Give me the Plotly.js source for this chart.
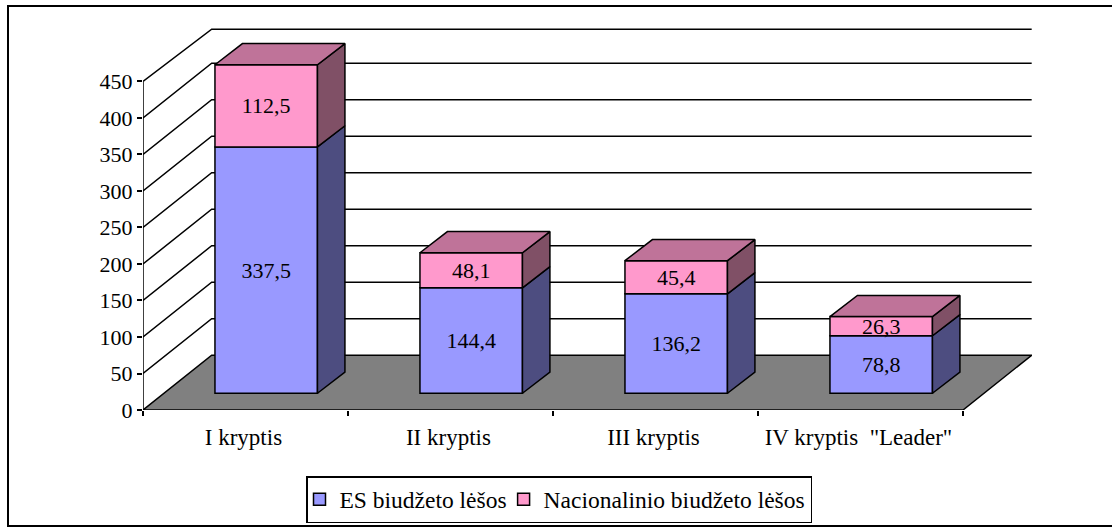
<!DOCTYPE html>
<html>
<head>
<meta charset="utf-8">
<script src="https://cdn.plot.ly/plotly-3.0.1.min.js"></script>
<style>html,body{margin:0;padding:0;background:#fff}#chart{width:1112px;height:531px}</style>
</head>
<body>
<div id="chart"></div>
<script>
const categories = ['I kryptis', 'II kryptis', 'III kryptis', 'IV kryptis  "Leader"'];
const esValues = [337.5, 144.4, 136.2, 78.8];
const nationalValues = [112.5, 48.1, 45.4, 26.3];
const esLabels = ['337,5', '144,4', '136,2', '78,8'];
const nationalLabels = ['112,5', '48,1', '45,4', '26,3'];
const yTicks = [0, 50, 100, 150, 200, 250, 300, 350, 400, 450];
const seriesNames = ['ES biudžeto lėšos', 'Nacionalinio biudžeto lėšos'];

// Oblique projection constants, in axis units
const W = 1112, H = 531;
const M = {l: 143, r: 80, t: 26, b: 121};
const xMax = (W - M.l - M.r) / 205, yMax = 526;
const wallDx = 0.335, wallDy = 75, wallTop = 521.6;
const barDx = 0.101, barDy = 22.9, barWidth = 0.5;
const depthDx = 0.134, depthDy = 29;
const FONT = '"Liberation Serif", "Times New Roman", serif';
const n = categories.length;
const idx = categories.map((_, i) => i);
const barX = idx.map(i => i + 0.5 + barDx);
const LW = 1.5;

function faces(bottoms, tops) {
  const xs = [], ys = [];
  idx.forEach(i => {
    const r = barX[i] + barWidth / 2;
    xs.push(r, r + depthDx, r + depthDx, r, r, null);
    ys.push(bottoms[i], bottoms[i] + depthDy, tops[i] + depthDy, tops[i], bottoms[i], null);
  });
  return {xs, ys};
}
function tops(levels) {
  const xs = [], ys = [];
  idx.forEach(i => {
    const l = barX[i] - barWidth / 2, r = barX[i] + barWidth / 2;
    xs.push(l, r, r + depthDx, l + depthDx, l, null);
    ys.push(levels[i], levels[i], levels[i] + depthDy, levels[i] + depthDy, levels[i], null);
  });
  return {xs, ys};
}
const base1 = esValues.map(() => barDy);
const top1 = esValues.map(v => v + barDy);
const top2 = esValues.map((v, i) => v + nationalValues[i] + barDy);

function poly(p, color) {
  return {x: p.xs, y: p.ys, type: 'scatter', mode: 'lines', fill: 'toself', fillcolor: color,
    line: {color: '#000', width: LW}, showlegend: false, hoverinfo: 'skip'};
}
function bar(name, vals, base, labels, color) {
  return {type: 'bar', name, x: barX, y: vals, base, width: barWidth, text: labels,
    textposition: 'inside', insidetextanchor: 'middle', textangle: 0, constraintext: 'none',
    textfont: {family: FONT, size: 22, color: '#000'},
    marker: {color, line: {color: '#000', width: LW}}, hoverinfo: 'skip'};
}
const traces = [
  bar(seriesNames[0], esValues, base1, esLabels, '#9999FF'),
  bar(seriesNames[1], nationalValues, top1, nationalLabels, '#FF99CC'),
  poly(faces(base1, top1), '#4D4D80'),
  poly(faces(top1, top2), '#805066'),
  poly(tops(top2), '#BF7399')
];

const lineStyle = {color: '#000', width: LW};
const shapes = [];
const pw = W - M.l - M.r, ph = H - M.t - M.b;
// outer frame
shapes.push({type: 'rect', xref: 'paper', yref: 'paper', layer: 'below',
  x0: (8 - M.l) / pw, x1: (W + 10 - M.l) / pw,
  y0: (H - 526 - M.b) / ph, y1: (H - 6 - M.b) / ph,
  line: {color: '#000', width: 2}, fillcolor: 'rgba(0,0,0,0)'});
// floor
shapes.push({type: 'path', layer: 'below', xref: 'x', yref: 'y',
  path: `M0,0 L${n},0 L${n + wallDx},${wallDy} L${wallDx},${wallDy} Z`,
  fillcolor: '#808080', line: lineStyle});
// gridlines on side and back walls
yTicks.slice(1).forEach(v => {
  const back = v === 450 ? wallTop : v + wallDy;
  shapes.push({type: 'path', layer: 'below', xref: 'x', yref: 'y',
    path: `M0,${v} L${wallDx},${back} L${n + wallDx},${back}`, line: lineStyle});
});
// value axis line
shapes.push({type: 'line', layer: 'below', xref: 'x', yref: 'y', x0: 0, x1: 0, y0: 0, y1: 450, line: lineStyle});

const layout = {
  width: W, height: H, margin: M, paper_bgcolor: '#fff', plot_bgcolor: '#fff',
  barmode: 'overlay', showlegend: true,
  font: {family: FONT, size: 22, color: '#000'},
  xaxis: {range: [0, xMax], tickmode: 'array', tickvals: idx.map(i => i + 0.49), ticktext: categories,
    ticks: '', showgrid: false, zeroline: false, showline: false, tickangle: 0, ticklabelstandoff: 11,
    tickfont: {family: FONT, size: 23, color: '#000'},
    minor: {tickmode: 'array', tickvals: [0, 1, 2, 3, 4], ticks: 'outside', ticklen: 5, tickwidth: 1.5, tickcolor: '#000', showgrid: false}},
  yaxis: {range: [0, yMax], tickmode: 'array', tickvals: yTicks, ticks: 'outside', ticklen: 5, tickwidth: 1.5,
    tickcolor: '#000', showgrid: false, zeroline: false, showline: false,
    tickfont: {family: FONT, size: 22, color: '#000'}},
  legend: {orientation: 'h', xref: 'container', yref: 'container', xanchor: 'left', yanchor: 'top',
    x: 306 / W, y: (H - 476) / H, bgcolor: '#fff', bordercolor: '#000', borderwidth: 1.5, indentation: -8,
    font: {family: FONT, size: 23.5, color: '#000'}, itemwidth: 30, traceorder: 'normal'},
  shapes
};
Plotly.newPlot('chart', traces, layout, {displayModeBar: false, responsive: false});
</script>
</body>
</html>
